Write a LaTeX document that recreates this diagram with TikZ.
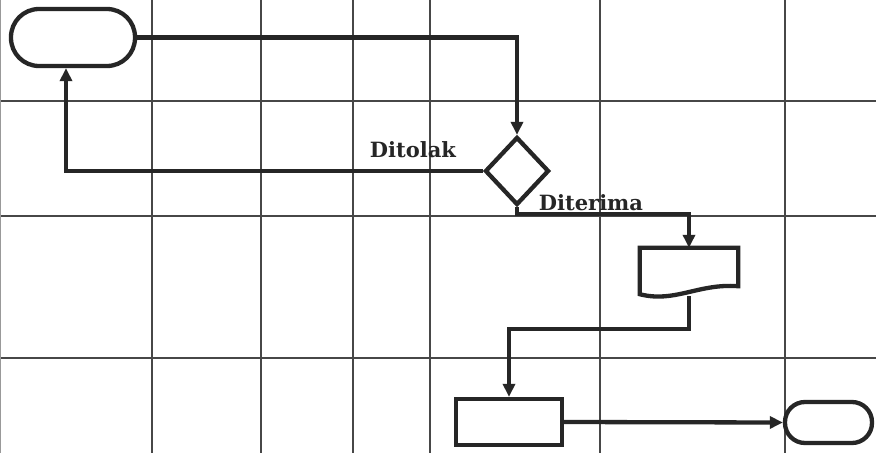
\documentclass[tikz,border=0pt]{standalone}
\usepackage{fontspec}
\newfontfamily\lblfont{DejaVu Serif}
\usetikzlibrary{shapes.geometric,arrows.meta}
\begin{document}
\begin{tikzpicture}[x=1pt,y=-1pt,
  gridline/.style={draw=black!72,line width=1.2pt},
  shapeline/.style={draw=black!85,line width=4.3pt,fill=white},
  conn/.style={draw=black!85,line width=4.3pt},
  arr/.style={conn,-{Triangle[length=13pt,width=12pt]}},
  term/.style={shapeline,rectangle,rounded corners=#1,inner sep=0pt},
  lbl/.style={font=\lblfont\fontsize{21}{22}\selectfont\bfseries,text=black!85,inner sep=0pt}]
\useasboundingbox (0,0) rectangle (876,453);
\fill[white] (0,0) rectangle (876,453);
% grid
\foreach \gx in {152,261,353,430,600,785} \draw[gridline] (\gx,0) -- (\gx,453);
\foreach \gy in {101,216,358} \draw[gridline] (0,\gy) -- (876,\gy);
\draw[draw=black!40,line width=1pt] (0.5,0) -- (0.5,453);
% nodes
\node[term=28pt,minimum width=124pt,minimum height=57pt] (start) at (73,37.5) {};
\node[shapeline,diamond,inner sep=0pt,minimum width=64pt,minimum height=68pt] (dec) at (517,171) {};
\node[rectangle,inner sep=0pt,minimum width=98pt,minimum height=46pt] (doc) at (689,271) {};
\coordinate (docr) at ([yshift=8pt]doc.south east);
\draw[shapeline,line join=miter] (doc.south west) -- (doc.north west) -- (doc.north east) -- (docr)
  .. controls ([xshift=-40pt,yshift=3pt]docr) and ([xshift=35pt,yshift=-9pt]doc.south west) .. (doc.south west) -- cycle;
\node[shapeline,rectangle,inner sep=0pt,minimum width=106pt,minimum height=46pt] (proc) at (509,422) {};
\node[term=20pt,minimum width=87pt,minimum height=41pt] (stop) at (828.5,422.5) {};
\coordinate (startin) at ([xshift=-7pt]start.south);
\coordinate (docout) at ([yshift=-2pt]doc.south);
% labels
\node[lbl] (ltolak) at (413,150) {Ditolak};
\node[lbl] (lterima) at (591,203) {Diterima};
% connectors
\draw[arr] (start.east) -| (dec.north);
\draw[arr] (dec.west) -| (startin);
\draw[arr] (dec.south) |- (604,214) -| (doc.north);
\draw[arr] (docout) |- (600,329) -| (proc.north);
\draw[arr] (proc.east) -- (stop.west);
\end{tikzpicture}
\end{document}
